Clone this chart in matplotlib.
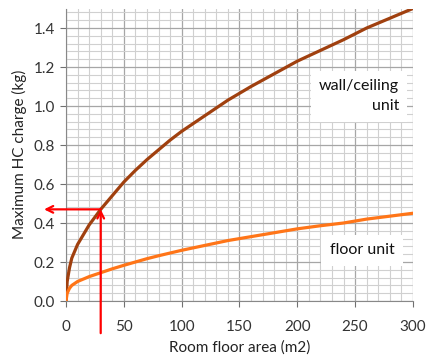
import numpy as np
import matplotlib.pyplot as plt
from matplotlib.ticker import MultipleLocator

plt.rcParams['font.family'] = ['Lato', 'DejaVu Sans']

# values
area = [0, 1, 3, 5, 10, 20, 30, 40, 50, 60, 70, 80, 90, 100, 120, 140, 160,
        180, 200, 220, 240, 260, 280, 300]
wall = [0.0, 0.10, 0.17, 0.22, 0.29, 0.39, 0.47, 0.54, 0.61, 0.67, 0.725, 0.775,
        0.825, 0.87, 0.95, 1.03, 1.10, 1.165, 1.23, 1.285, 1.34, 1.40, 1.45, 1.50]
floor = [0.0, 0.04, 0.065, 0.08, 0.10, 0.125, 0.145, 0.165, 0.183, 0.20, 0.217,
         0.232, 0.246, 0.26, 0.285, 0.31, 0.33, 0.35, 0.37, 0.386, 0.40, 0.42,
         0.435, 0.45]
pick_area = 30
pick_charge = 0.47

fig = plt.figure(figsize=(4.27, 3.62), dpi=100)
ax = fig.add_axes([0.1546, 0.1685, 0.8124, 0.808])

ax.plot(area, wall, color='#A0400F', lw=2.3, solid_capstyle='round', zorder=3)
ax.plot(area, floor, color='#FF7518', lw=2.3, solid_capstyle='round', zorder=3)

ax.set_xlim(0, 300)
ax.set_ylim(0, 1.5)
ax.xaxis.set_major_locator(MultipleLocator(50))
ax.xaxis.set_minor_locator(MultipleLocator(10))
ax.yaxis.set_major_locator(MultipleLocator(0.2))
ax.yaxis.set_minor_locator(MultipleLocator(0.04))
ax.yaxis.set_major_formatter(plt.FuncFormatter(lambda v, p: f"{v:.1f}"))
ax.grid(which='major', color='#a6a6a6', lw=0.9)
ax.grid(which='minor', color='#d0d0d0', lw=0.8)
ax.set_axisbelow(True)
ax.tick_params(which='major', direction='out', length=4, color='#707070',
               labelsize=11, labelcolor='#333333')
ax.tick_params(axis='x', which='major', pad=10)
ax.tick_params(axis='y', which='major', pad=4)
ax.tick_params(which='minor', length=0)
for s in ['top', 'right']:
    ax.spines[s].set_visible(False)
for s in ['left', 'bottom']:
    ax.spines[s].set_color('#888888')

ax.set_xlabel("Room floor area (m2)", fontsize=11, color='#222222', labelpad=4)
ax.set_ylabel("Maximum HC charge (kg)", fontsize=11, color='#222222', labelpad=5)

# red read-off arrows
ax.annotate('', xy=(pick_area, pick_charge), xytext=(pick_area, -0.165),
            arrowprops=dict(arrowstyle='->', color='red', lw=1.6,
                            shrinkA=0, shrinkB=0, mutation_scale=12),
            annotation_clip=False, zorder=4)
ax.annotate('', xy=(-19, pick_charge), xytext=(pick_area, pick_charge),
            arrowprops=dict(arrowstyle='->', color='red', lw=1.6,
                            shrinkA=0, shrinkB=0, mutation_scale=12),
            annotation_clip=False, zorder=4)

box = dict(facecolor='white', edgecolor='none', pad=6)
ax.text(288, 1.05, "wall/ceiling\nunit", ha='right', va='center',
        fontsize=11.5, color='#111111', linespacing=1.55, bbox=box, zorder=5)
ax.text(256, 0.26, "floor unit", ha='center', va='center',
        fontsize=11.5, color='#111111', bbox=box, zorder=5)

fig.savefig("out.png", dpi=100)
